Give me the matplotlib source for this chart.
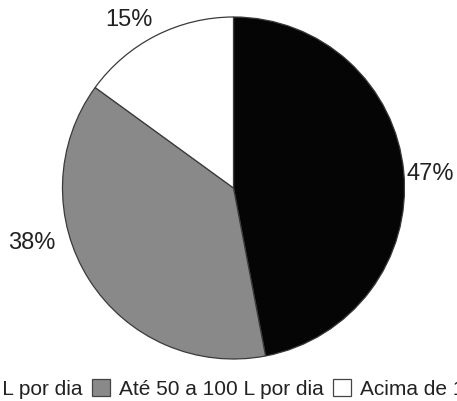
import matplotlib.pyplot as plt
from matplotlib.patches import Patch

# consumo diario de agua
categorias = ['Até 50 L por dia', 'Até 50 a 100 L por dia', 'Acima de 100 L por dia']
valores = [47, 38, 15]
rotulos = ['47%', '38%', '15%']
cores = ['#050505', '#898989', '#ffffff']

W, H = 457, 401
fig = plt.figure(figsize=(W / 100, H / 100), dpi=100)
plt.rcParams['font.family'] = ['Liberation Sans', 'DejaVu Sans']

cx, cy, r = 233.5, 188, 171
ax = fig.add_axes([(cx - r) / W, (H - cy - r) / H, 2 * r / W, 2 * r / H])

wedges, _ = ax.pie(valores, colors=cores, startangle=90, counterclock=False,
                   radius=1, wedgeprops=dict(edgecolor='#3a3a3a', linewidth=0.9))
ax.set_xlim(-1, 1)
ax.set_ylim(-1, 1)
ax.set_aspect('equal')
ax.axis('off')

# posicoes dos rotulos (pixels na imagem)
pos = [(430, 174.5), (32, 243), (129, 20.5)]
for (px, py), txt in zip(pos, rotulos):
    ax.text((px - cx) / r, (cy - py) / r, txt, fontsize=17, color='#222222',
            ha='center', va='center', clip_on=False)

# legenda cortada nas bordas, como na figura original
handles = [Patch(facecolor=c, edgecolor='#444444', linewidth=0.9) for c in cores]
fig.legend(handles, categorias, loc='center', bbox_to_anchor=(241.5 / W, (H - 389) / H),
           ncol=3, frameon=False, fontsize=15, handlelength=0.85, handleheight=0.85,
           handletextpad=0.45, columnspacing=0.45, labelcolor='#222222')

fig.savefig('out.png', dpi=100)
